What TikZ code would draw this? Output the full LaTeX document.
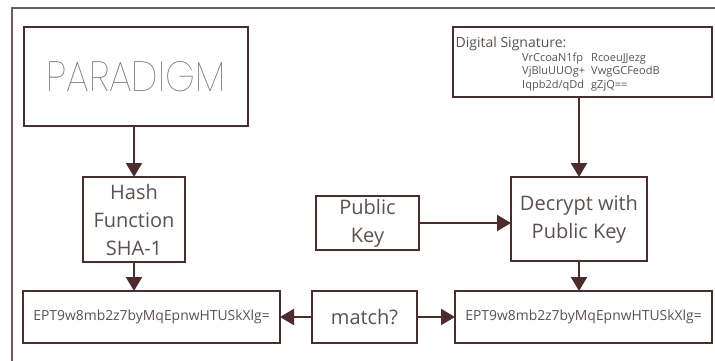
\documentclass[tikz,border=0pt]{standalone}
\usepackage{fontspec}
\setmainfont{Open Sans}
\usetikzlibrary{arrows.meta}
\IfFontExistsTF{Poppins Thin}{\newfontfamily\thinfont{Poppins Thin}}{\newfontfamily\thinfont{Poppins}}
\definecolor{lc}{RGB}{78,44,44}
\definecolor{tc}{RGB}{92,80,80}
\definecolor{fc}{RGB}{112,92,92}
\begin{document}
\begin{tikzpicture}[x=1pt,y=-1pt,
  box/.style={draw=lc,line width=1.4pt,rectangle,inner sep=0pt,outer sep=0pt,text=tc,align=center},
  big/.style={font=\fontsize{20}{28}\selectfont},
  small/.style={font=\fontsize{13.9}{16}\selectfont},
  sig/.style={anchor=base west,inner sep=0pt,text=tc,font=\fontsize{11}{13}\selectfont},
  arr/.style={draw=lc,line width=2.3pt,-{Triangle[length=14pt,width=16pt]}},
]
\useasboundingbox (0,0) rectangle (715,360);
\draw[fc,line width=1.2pt] (740,8) -- (12,8) -- (12,380);
% boxes
\node[box,minimum width=224pt,minimum height=99pt] (para) at (136,76.5)
  {\color{tc!85}\resizebox{179pt}{30pt}{\thinfont PARADIGM}};
\node[box,big,minimum width=102pt,minimum height=85pt] (hash) at (134,219.5) {Hash\\Function\\SHA-1};
\node[box,small,minimum width=257pt,minimum height=52pt] (eptL) at (151.5,317) {EPT9w8mb2z7byMqEpnwHTUSkXlg=};
\node[box,big,minimum width=105pt,minimum height=52pt] (match) at (364.5,317) {match?};
\node[box,small,minimum width=257pt,minimum height=52pt] (eptR) at (583.5,317) {EPT9w8mb2z7byMqEpnwHTUSkXlg=};
\node[box,big,minimum width=103pt,minimum height=54pt] (pub) at (367.5,223) {Public\\Key};
\node[box,big,minimum width=136pt,minimum height=84pt] (dec) at (579,219) {Decrypt with\\Public Key};
\node[box,minimum width=259pt,minimum height=70pt] (ds) at (582.5,62) {};
% signature text
\node[sig,font=\fontsize{14}{16}\selectfont] (dsh) at (455.5,47) {Digital Signature:};
\node[sig] (s1a) at (522,61) {VrCcoaN1fp};
\node[sig] (s1b) at (591,61) {RcoeuJJezg};
\node[sig] (s2a) at (522,74.5) {VjBluUUOg+};
\node[sig] (s2b) at (591,74.5) {VwgGCFeodB};
\node[sig] (s3a) at (522,88) {Iqpb2d/qDd};
\node[sig] (s3b) at (591,88) {gZjQ==};
% arrows
\draw[arr] (hash.north |- para.south) -- (hash.north);
\draw[arr] (hash.south) -- (eptL.north -| hash.south);
\draw[arr] (dec.north |- ds.south) -- (dec.north);
\draw[arr] (pub.east) -- (dec.west |- pub.east);
\draw[arr] (dec.south) -- (eptR.north -| dec.south);
\draw[arr] (match.west) -- (eptL.east);
\draw[arr] (match.east) -- (eptR.west);
\end{tikzpicture}
\end{document}
